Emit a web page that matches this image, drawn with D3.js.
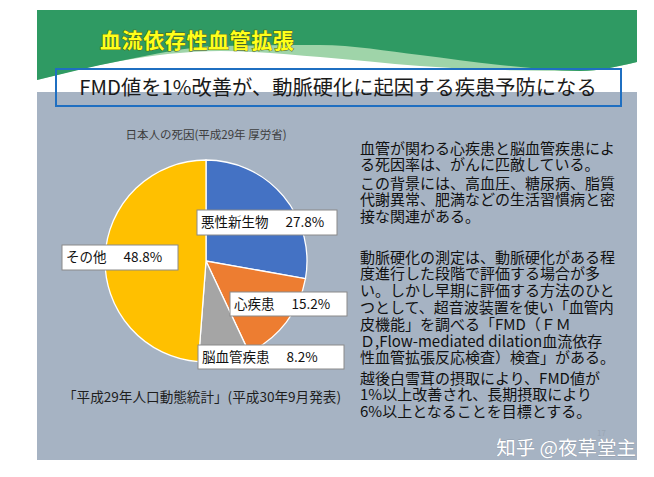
<!DOCTYPE html>
<html><head><meta charset="utf-8">
<script src="https://cdn.jsdelivr.net/npm/d3@7"></script>
<style>
body{margin:0;background:#fff}
svg{display:block}
text{font-family:"Noto Sans CJK JP","Noto Sans",sans-serif}
</style>
</head><body>
<svg id="c" width="654" height="477"></svg>
<script>
// ---- data ----
const categories = ["悪性新生物", "心疾患", "脳血管疾患", "その他"];
const values = [27.8, 15.2, 8.2, 48.8];
const valueLabels = ["27.8%", "15.2%", "8.2%", "48.8%"];
const colors = ["#4472c4", "#ed7d31", "#a5a5a5", "#ffc000"];
const headerTitle = "血流依存性血管拡張";
const boxTitle = "FMD値を1%改善が、動脈硬化に起因する疾患予防になる";
const chartTitle = "日本人の死因(平成29年 厚労省)";
const sourceNote = "「平成29年人口動態統計」(平成30年9月発表)";
const para1 = ["血管が関わる心疾患と脳血管疾患によ", "る死因率は、がんに匹敵している。"];
const para2 = ["この背景には、高血圧、糖尿病、脂質", "代謝異常、肥満などの生活習慣病と密", "接な関連がある。"];
const para3 = ["動脈硬化の測定は、動脈硬化がある程", "度進行した段階で評価する場合が多", "い。しかし早期に評価する方法のひと",
  "つとして、超音波装置を使い「血管内", "皮機能」を調べる「FMD（ＦＭ", "Ｄ,Flow-mediated dilation血流依存",
  "性血管拡張反応検査）検査」がある。"];
const para4 = ["越後白雪茸の摂取により、FMD値が", "1%以上改善され、長期摂取により", "6%以上となることを目標とする。"];
const watermark = "知乎 @夜草堂主";

// ---- layout ----
const svg = d3.select("#c");
const S = {x0: 37, x1: 637, y0: 10, y1: 460, grayTop: 92};

// slide background
svg.append("rect").attr("x", S.x0).attr("y", S.y0).attr("width", S.x1 - S.x0).attr("height", S.grayTop - S.y0).attr("fill", "#ffffff");
svg.append("rect").attr("x", S.x0).attr("y", S.grayTop).attr("width", S.x1 - S.x0).attr("height", S.y1 - S.grayTop).attr("fill", "#a6b3c3");

// header green waves
const waveLine = d3.line().curve(d3.curveMonotoneX);
const curveA = [[37, 80], [120, 61], [220, 46], [320, 45], [420, 55], [500, 65], [580, 71], [637, 62]];
const curveB = [[37, 80], [120, 61], [220, 51], [320, 57], [420, 66], [500, 70], [580, 71], [637, 62]];
function band(curve) {
  return "M" + S.x0 + "," + S.y0 + "L" + S.x1 + "," + S.y0 + "L" + curve[curve.length - 1].join(",") +
    waveLine(curve.slice().reverse()).replace(/^M[^CL]*/, "") + "Z";
}
svg.append("path").attr("d", band(curveB)).attr("fill", "#9fd4a9");
svg.append("path").attr("d", band(curveA)).attr("fill", "#2f9a63");

// header title
svg.append("text").attr("x", 100).attr("y", 48).attr("font-size", 21).attr("font-weight", "bold")
  .attr("fill", "#ffff1a").attr("stroke", "#4d5a12").attr("stroke-width", 0.9).attr("paint-order", "stroke")
  .attr("letter-spacing", 0.6).text(headerTitle);

// title box
svg.append("rect").attr("x", 56).attr("y", 69).attr("width", 565).attr("height", 37)
  .attr("fill", "none").attr("stroke", "#1f6fc1").attr("stroke-width", 2);
svg.append("text").attr("x", 338).attr("y", 94.5).attr("text-anchor", "middle").attr("font-size", 20.3)
  .attr("fill", "#1a1a1a").text(boxTitle);

// pie
const cx = 206, cy = 261, R = 101;
const g = svg.append("g").attr("transform", `translate(${cx},${cy})`);
const pie = d3.pie().sort(null).value(d => d.v);
const arc = d3.arc().innerRadius(0).outerRadius(R);
const data = categories.map((c, i) => ({c, v: values[i], lab: valueLabels[i], col: colors[i]}));
g.selectAll("path.s").data(pie(data)).join("path").attr("class", "s")
  .attr("d", arc).attr("fill", d => d.data.col).attr("stroke", "#ffffff").attr("stroke-width", 1.3);

// chart title
svg.append("text").attr("x", 206).attr("y", 139).attr("text-anchor", "middle").attr("font-size", 11.5)
  .attr("fill", "#3d3d3d").text(chartTitle);

// labels (box offsets relative to pie centre)
const labelBoxes = [
  {dx: -9, dy: -51, w: 140, h: 25},
  {dx: 24, dy: 31, w: 117, h: 24},
  {dx: -8, dy: 84, w: 146, h: 24},
  {dx: -144, dy: -16, w: 116, h: 25}
];
data.forEach((d, i) => {
  const b = labelBoxes[i];
  const lg = g.append("g").attr("transform", `translate(${b.dx},${b.dy})`);
  lg.append("rect").attr("width", b.w).attr("height", b.h).attr("fill", "#ffffff")
    .attr("stroke", "#8a8a8a").attr("stroke-width", 1);
  const t = lg.append("text").attr("x", 4).attr("y", b.h / 2 + 4.8).attr("font-size", 13.5).attr("fill", "#111");
  t.append("tspan").text(d.c);
  t.append("tspan").attr("dx", 17).text(d.lab);
});

// source note
svg.append("text").attr("x", 202).attr("y", 402).attr("text-anchor", "middle").attr("font-size", 13.6)
  .attr("fill", "#1e1e1e").text(sourceNote);

// right-hand text: two text blocks, each built from line tspans
const tx = 360, lh = 16.8;
const groups = [
  {y: 153.5, paras: [{lines: para1, gap: 0}, {lines: para2, gap: 1.4}]},
  {y: 262.5, paras: [{lines: para3, gap: 0}, {lines: para4, gap: 3.4}]}
];
groups.forEach(gr => {
  const t = svg.append("text").attr("x", tx).attr("y", gr.y).attr("font-size", 15).attr("fill", "#111");
  let first = true;
  gr.paras.forEach(p => {
    p.lines.forEach((ln, j) => {
      const dy = first ? 0 : lh + (j === 0 ? p.gap : 0);
      t.append("tspan").attr("x", tx).attr("dy", dy).text(ln);
      first = false;
    });
  });
});

// faint slide number and watermark
svg.append("text").attr("x", 597).attr("y", 436).attr("font-size", 8).attr("fill", "#9aa6b4").text("17");
svg.append("text").attr("x", 636).attr("y", 455).attr("text-anchor", "end").attr("font-size", 19.5)
  .attr("fill", "#ffffff").attr("stroke", "#7d8896").attr("stroke-width", 0.4).attr("paint-order", "stroke")
  .text(watermark);
</script>
</body></html>
